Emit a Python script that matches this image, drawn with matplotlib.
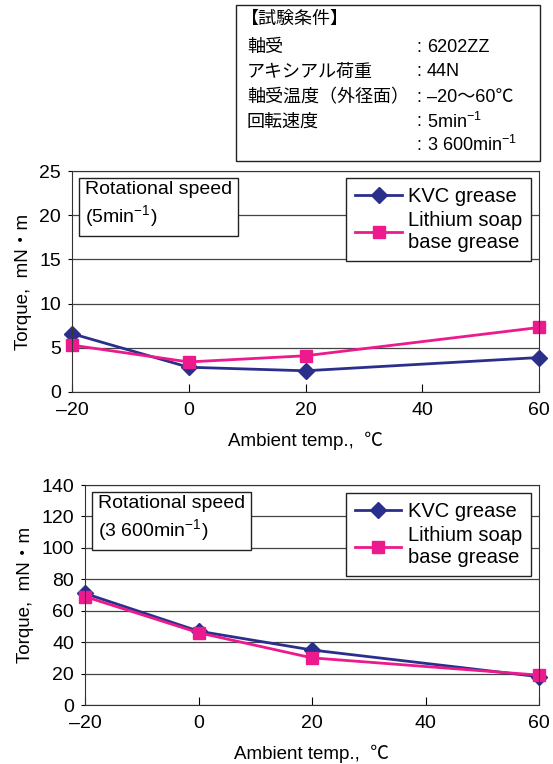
import numpy as np
import matplotlib.pyplot as plt
from matplotlib.patches import Rectangle

plt.rcParams['font.family'] = ['Liberation Sans', 'Noto Sans CJK JP', 'DejaVu Sans']
plt.rcParams['mathtext.fontset'] = 'custom'
plt.rcParams['mathtext.rm'] = 'Liberation Sans'

temps = [-20, 0, 20, 60]
kvc_5 = [6.6, 2.8, 2.4, 3.9]
li_5 = [5.3, 3.4, 4.1, 7.3]
kvc_3600 = [71, 47, 35, 18]
li_3600 = [69, 46, 30, 19]

cond_keys = ["軸受", "アキシアル荷重", "軸受温度（外径面）", "回転速度", ""]
cond_vals = ["6202ZZ", "44N", "–20～60℃", "5min$^{-1}$", "3 600min$^{-1}$"]

navy = "#2B2F8C"
pink = "#EC1A8C"

fig = plt.figure(figsize=(5.53, 7.64), dpi=100)

# test condition box
W, H = 553, 764
fig.patches.append(Rectangle((236 / W, 1 - 161 / H), (540 - 236) / W, 156 / H,
                             transform=fig.transFigure, fill=False, lw=1.0, ec="#222222"))
fig.text(241 / W, 1 - 19 / H, "【試験条件】", fontsize=13, va="center")
ys = [47, 72, 98, 122, 145]
for y, k, v in zip(ys, cond_keys, cond_vals):
    fig.text(247 / W, 1 - y / H, k, fontsize=13, va="center")
    fig.text(416 / W, 1 - y / H, ":", fontsize=13, va="center")
    fig.text(427 / W, 1 - y / H, v, fontsize=13, va="center")


def draw(ax, kvc, li, ymax, ystep, speed, leg_anchor):
    ax.plot(temps, kvc, color=navy, marker="D", ms=8, lw=2, label="KVC grease", clip_on=False)
    ax.plot(temps, li, color=pink, marker="s", ms=8, lw=2, label="Lithium soap\nbase grease",
            clip_on=False)
    ax.set_xlim(-20, 60)
    ax.set_ylim(0, ymax)
    ax.set_xticks([-20, 0, 20, 40, 60])
    ax.set_xticklabels(["–20", "0", "20", "40", "60"])
    ax.set_yticks(np.arange(0, ymax + 1, ystep))
    ax.tick_params(axis="x", direction="in", length=6, labelsize=14, pad=7)
    ax.tick_params(axis="y", direction="out", length=3, labelsize=14, pad=5)
    ax.grid(axis="y", color="#444444", lw=0.9)
    ax.set_axisbelow(True)
    for s in ax.spines.values():
        s.set_color("#333333")
    ax.set_xlabel("Ambient temp.,  ℃", fontsize=13.5, labelpad=9)
    ax.set_ylabel("Torque,  mN・m", fontsize=13.5, labelpad=5)
    ax.text(0.028, 0.955, "Rotational speed\n(" + speed + "min$^{-1}$)", transform=ax.transAxes,
            fontsize=14, va="top", ha="left", linespacing=1.3,
            bbox=dict(boxstyle="square,pad=0.3", fc="white", ec="#222222", lw=1.0))
    leg = ax.legend(loc="upper right", bbox_to_anchor=leg_anchor, borderaxespad=0,
                    fontsize=14.5, fancybox=False, edgecolor="#222222", framealpha=1,
                    handlelength=2.3, handletextpad=0.3, borderpad=0.45, labelspacing=0.25)
    leg.get_frame().set_linewidth(1.0)


ax1 = fig.add_axes([72 / W, 1 - 392 / H, (539 - 72) / W, (392 - 171) / H])
draw(ax1, kvc_5, li_5, 25, 5, "5", (0.983, 0.968))
ax2 = fig.add_axes([85 / W, 1 - 705 / H, (539 - 85) / W, (705 - 485) / H])
draw(ax2, kvc_3600, li_3600, 140, 20, "3 600", (0.982, 0.964))

fig.savefig("out.png", dpi=100)
